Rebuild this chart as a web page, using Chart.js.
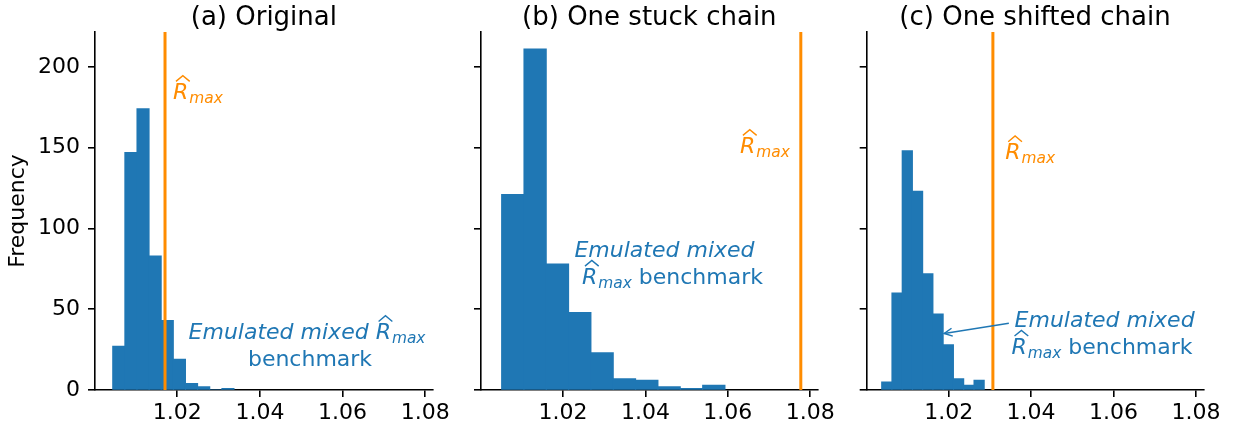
<!DOCTYPE html>
<html><head><meta charset="utf-8">
<script src="https://cdn.jsdelivr.net/npm/chart.js@4.4.0/dist/chart.umd.min.js"></script>
<style>
html,body{margin:0;padding:0;background:#fff;}
#wrap{position:relative;width:1233px;height:432px;overflow:hidden;background:#fff;}
#wrap canvas{position:absolute;left:0;top:0;}
</style></head><body>
<div id="wrap">
<canvas id="ca" width="1233" height="432"></canvas>
<canvas id="cb" width="1233" height="432"></canvas>
<canvas id="cc" width="1233" height="432"></canvas>
</div>
<script>
// ---------- data ----------
const panelTitles = ['(a) Original', '(b) One stuck chain', '(c) One shifted chain'];
const binEdgesA = [1.00438, 1.00732, 1.01025, 1.01319, 1.01612, 1.01906, 1.02199, 1.02493, 1.02786, 1.03080, 1.03373];
const countsA   = [27, 147, 174, 83, 43, 19, 4, 2, 0, 1];
const binEdgesB = [1.00510, 1.01052, 1.01594, 1.02136, 1.02678, 1.03220, 1.03762, 1.04304, 1.04846, 1.05388, 1.05930];
const countsB   = [121, 211, 78, 48, 23, 7, 6, 2, 1, 3];
const binEdgesC = [1.00373, 1.00622, 1.00871, 1.01120, 1.01369, 1.01618, 1.01867, 1.02116, 1.02365, 1.02614, 1.02863];
const countsC   = [5, 60, 148, 123, 72, 47, 28, 7, 3, 6];
const rhatMax   = [1.01704, 1.07770, 1.03073];
const xTickValues = [1.02, 1.04, 1.06, 1.08];
const yTickValues = [0, 50, 100, 150, 200];
const xLimits = [1.0001, 1.0818];
const yLimits = [0, 221.55];
// annotation anchors (data coordinates)
const rhatLabelPos = [[1.01897, 180.1], [1.06293, 146.7], [1.03373, 142.8]];
const benchLabelPos = [[1.05212, 31.56], [1.04535, 82.5], [1.0355, 39.2]];
const arrowC = [[1.0346, 41.3], [1.01892, 35.0]];

const BLUE = '#1f77b4', ORANGE = '#ff8c00';
const FONT = '"DejaVu Sans"';
const S = 22;

Chart.defaults.font.family = 'DejaVu Sans';
Chart.defaults.color = '#000';

function segWidth(ctx, seg) {
  if (seg.rhat) {
    ctx.font = 'italic ' + S + 'px ' + FONT;
    const wR = ctx.measureText('R').width;
    ctx.font = 'italic ' + (S * 0.7) + 'px ' + FONT;
    return wR + 1 + ctx.measureText('max').width;
  }
  ctx.font = (seg.it ? 'italic ' : '') + S + 'px ' + FONT;
  return ctx.measureText(seg.t).width;
}
function drawSeg(ctx, seg, x, y, color) {
  ctx.fillStyle = color;
  if (seg.rhat) {
    ctx.font = 'italic ' + S + 'px ' + FONT;
    const wR = ctx.measureText('R').width;
    ctx.fillText('R', x, y);
    const cx = x + wR * 0.5 + S * 0.1;
    const capTop = y - S * 0.729;
    const hb = capTop - S * 0.07, ht = capTop - S * 0.33, hw = wR * 0.45;
    ctx.strokeStyle = color; ctx.lineWidth = 1.4; ctx.lineJoin = 'miter';
    ctx.beginPath(); ctx.moveTo(cx - hw, hb); ctx.lineTo(cx, ht); ctx.lineTo(cx + hw, hb); ctx.stroke();
    ctx.font = 'italic ' + (S * 0.7) + 'px ' + FONT;
    ctx.fillText('max', x + wR + 1, y + S * 0.18);
    return;
  }
  ctx.font = (seg.it ? 'italic ' : '') + S + 'px ' + FONT;
  ctx.fillText(seg.t, x, y);
}

function decorPlugin(cfg) {
  return {
    id: 'decor',
    afterDraw(chart) {
      const {ctx, chartArea, scales} = chart;
      const xs = scales.x, ys = scales.y;
      ctx.save();
      ctx.textBaseline = 'alphabetic';
      // title
      ctx.font = '26px ' + FONT; ctx.fillStyle = '#000'; ctx.textAlign = 'center';
      ctx.fillText(cfg.title, (chartArea.left + chartArea.right) / 2, 25);
      ctx.textAlign = 'left';
      // notes
      cfg.notes.forEach(n => {
        const px = xs.getPixelForValue(n.x), py = ys.getPixelForValue(n.y);
        n.lines.forEach((line, li) => {
          const w = line.reduce((a, s) => a + segWidth(ctx, s), 0);
          let x = (n.align === 'center' ? px - w / 2 : px) + ((n.dx && n.dx[li]) || 0);
          const y = py + li * 27;
          line.forEach(s => { const sw = segWidth(ctx, s); drawSeg(ctx, s, x, y, n.color); x += sw; });
        });
      });
      // arrows
      (cfg.arrows || []).forEach(a => {
        const x1 = xs.getPixelForValue(a.from[0]), y1 = ys.getPixelForValue(a.from[1]);
        const x2 = xs.getPixelForValue(a.to[0]), y2 = ys.getPixelForValue(a.to[1]);
        const ang = Math.atan2(y2 - y1, x2 - x1);
        ctx.strokeStyle = a.color; ctx.lineWidth = 1.5;
        ctx.beginPath(); ctx.moveTo(x1, y1); ctx.lineTo(x2, y2); ctx.stroke();
        const hl = 8, hw = 4;
        const bx = x2 - hl * Math.cos(ang), by = y2 - hl * Math.sin(ang);
        ctx.beginPath();
        ctx.moveTo(bx + hw * Math.sin(ang), by - hw * Math.cos(ang));
        ctx.lineTo(x2, y2);
        ctx.lineTo(bx - hw * Math.sin(ang), by + hw * Math.cos(ang));
        ctx.stroke();
      });
      ctx.restore();
    }
  };
}

function makeChart(id, edges, counts, rmax, cfg) {
  const bars = counts.map((c, i) => ({x: (edges[i] + edges[i + 1]) / 2, y: c}));
  return new Chart(document.getElementById(id), {
    type: 'bar',
    data: {
      datasets: [
        {type: 'line', data: [{x: rmax, y: yLimits[0]}, {x: rmax, y: yLimits[1]}],
         borderColor: ORANGE, borderWidth: 3, pointRadius: 0, fill: false, order: 1, clip: false},
        {type: 'bar', data: bars, backgroundColor: BLUE, borderWidth: 0, inflateAmount: 0.5,
         barPercentage: 1, categoryPercentage: 1, order: 2}
      ]
    },
    options: {
      responsive: false, animation: false, devicePixelRatio: 1, events: [],
      layout: {padding: {left: cfg.padLeft, right: cfg.padRight, top: 32, bottom: 0}},
      plugins: {legend: {display: false}, tooltip: {enabled: false}, title: {display: false}},
      scales: {
        x: {
          type: 'linear', min: xLimits[0], max: xLimits[1], offset: false,
          afterBuildTicks: s => { s.ticks = xTickValues.map(v => ({value: v})); },
          afterFit: s => { s.height = 42; s.paddingLeft = 0; s.paddingRight = 0; },
          ticks: {font: {size: 22}, color: '#000', padding: 3, maxRotation: 0, autoSkip: false,
                  callback: v => Number(v).toFixed(2)},
          grid: {drawOnChartArea: false, drawTicks: true, tickLength: 7, tickWidth: 1.6, tickColor: '#000', offset: false, lineWidth: 1.6, color: '#000'},
          border: {display: true, color: '#000', width: 1.6}
        },
        y: {
          type: 'linear', min: yLimits[0], max: yLimits[1],
          afterBuildTicks: s => { s.ticks = yTickValues.map(v => ({value: v})); },
          afterFit: s => { s.width = cfg.yWidth; s.paddingTop = 0; s.paddingBottom = 0; },
          ticks: {display: cfg.yLabels, font: {size: 22}, color: '#000', padding: 8, autoSkip: false,
                  callback: v => String(v)},
          title: {display: cfg.yLabels, text: 'Frequency', font: {size: 22}, color: '#000', padding: {top: 5, bottom: 0}},
          grid: {drawOnChartArea: false, drawTicks: true, tickLength: 7, tickWidth: 1.6, tickColor: '#000', lineWidth: 1.6, color: '#000'},
          border: {display: true, color: '#000', width: 1.6}
        }
      }
    },
    plugins: [decorPlugin(cfg)]
  });
}

const italicEM = {t: 'Emulated mixed', it: true};

makeChart('ca', binEdgesA, countsA, rhatMax[0], {
  title: panelTitles[0], padLeft: 0, padRight: 800.3, yWidth: 95, yLabels: true,
  notes: [
    {x: rhatLabelPos[0][0], y: rhatLabelPos[0][1], align: 'left', color: ORANGE, lines: [[{rhat: true}]]},
    {x: benchLabelPos[0][0], y: benchLabelPos[0][1], align: 'center', color: BLUE, dx: [-3, 0],
     lines: [[{t: 'Emulated mixed ', it: true}, {rhat: true}], [{t: 'benchmark'}]]}
  ]
});
makeChart('cb', binEdgesB, countsB, rhatMax[1], {
  title: panelTitles[1], padLeft: 461, padRight: 415.3, yWidth: 20, yLabels: false,
  notes: [
    {x: rhatLabelPos[1][0], y: rhatLabelPos[1][1], align: 'left', color: ORANGE, lines: [[{rhat: true}]]},
    {x: benchLabelPos[1][0], y: benchLabelPos[1][1], align: 'center', color: BLUE, dx: [-3, 5],
     lines: [[italicEM], [{rhat: true}, {t: ' benchmark'}]]}
  ]
});
makeChart('cc', binEdgesC, countsC, rhatMax[2], {
  title: panelTitles[2], padLeft: 846.7, padRight: 29.7, yWidth: 20, yLabels: false,
  notes: [
    {x: rhatLabelPos[2][0], y: rhatLabelPos[2][1], align: 'left', color: ORANGE, lines: [[{rhat: true}]]},
    {x: benchLabelPos[2][0], y: benchLabelPos[2][1], align: 'left', color: BLUE, dx: [2, -1],
     lines: [[italicEM], [{rhat: true}, {t: ' benchmark'}]]}
  ],
  arrows: [{from: arrowC[0], to: arrowC[1], color: BLUE}]
});
</script>
</body></html>
